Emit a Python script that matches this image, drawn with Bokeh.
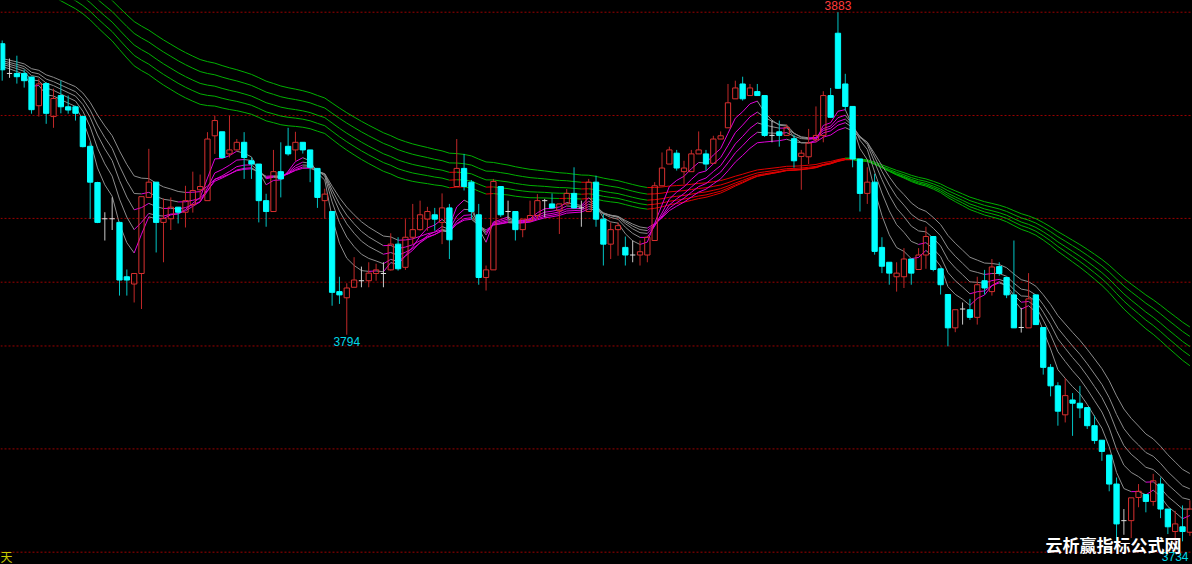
from bokeh.plotting import figure
from bokeh.models import ColumnDataSource, Range1d, Span, Label
from bokeh.embed import file_html
from bokeh.resources import INLINE

# ---------------- data ----------------
opens = [3874.3, 3866.1, 3866.1, 3866.1, 3865.1, 3857.2, 3863.3, 3854.2, 3860.0, 3856.9,
         3856.9, 3854.2, 3846.0, 3836.0, 3826.0, 3826.0, 3825.0, 3810.0, 3808.0, 3810.9,
         3831.9, 3836.1, 3825.0, 3826.0, 3829.2, 3827.8, 3829.9, 3834.0, 3831.0, 3848.9,
         3850.0, 3843.9, 3845.0, 3847.1, 3842.0, 3841.1, 3831.0, 3828.0, 3839.0, 3846.0,
         3845.0, 3847.1, 3845.0, 3839.9, 3831.0, 3828.0, 3805.9, 3804.2, 3807.1, 3808.9,
         3808.9, 3810.9, 3810.9, 3811.9, 3819.0, 3812.6, 3820.9, 3823.0, 3825.9, 3827.1,
         3825.0, 3829.0, 3834.9, 3839.9, 3836.1, 3827.1, 3809.8, 3811.9, 3834.9, 3828.0,
         3828.0, 3823.0, 3825.5, 3826.9, 3831.0, 3830.1, 3828.2, 3830.1, 3833.0, 3829.0,
         3828.0, 3836.1, 3825.9, 3819.0, 3823.0, 3818.1, 3816.0, 3816.0, 3816.0, 3820.0,
         3835.1, 3841.1, 3844.1, 3839.0, 3839.0, 3843.9, 3843.9, 3841.3, 3848.0, 3851.1,
         3859.1, 3863.2, 3860.0, 3861.1, 3860.0, 3849.0, 3850.0, 3849.0, 3848.1, 3843.2,
         3843.1, 3847.8, 3849.0, 3860.0, 3877.2, 3863.2, 3857.0, 3842.5, 3833.0, 3836.1,
         3818.1, 3814.0, 3810.0, 3810.0, 3814.9, 3812.0, 3816.0, 3821.1, 3812.2, 3805.1,
         3795.9, 3801.1, 3800.9, 3798.8, 3808.9, 3805.9, 3812.8, 3809.8, 3805.0, 3796.0,
         3795.9, 3805.0, 3796.0, 3785.0, 3779.9, 3771.9, 3776.0, 3775.1, 3773.9, 3768.9,
         3764.9, 3760.8, 3752.8, 3742.7, 3742.7, 3749.1, 3749.9, 3748.0, 3752.8, 3745.9,
         3739.7, 3741.0, 3739.5]

highs = [3875.2, 3870.2, 3871.0, 3867.2, 3865.2, 3864.7, 3863.7, 3861.9, 3864.1, 3860.0,
         3857.2, 3854.5, 3847.1, 3836.2, 3827.8, 3831.9, 3825.2, 3812.0, 3810.9, 3832.1,
         3845.3, 3836.1, 3831.6, 3831.9, 3829.2, 3835.1, 3839.0, 3838.2, 3849.9, 3854.5,
         3850.0, 3854.5, 3848.0, 3849.9, 3842.9, 3841.1, 3832.9, 3845.0, 3847.1, 3851.1,
         3850.0, 3847.1, 3845.0, 3839.9, 3834.3, 3828.0, 3810.0, 3808.2, 3815.4, 3812.8,
         3814.0, 3813.6, 3814.0, 3822.0, 3820.9, 3825.9, 3830.1, 3831.0, 3829.3, 3829.0,
         3833.0, 3830.1, 3848.0, 3843.9, 3836.7, 3830.1, 3813.1, 3837.0, 3834.9, 3831.0,
         3828.0, 3825.9, 3831.0, 3832.8, 3831.5, 3833.0, 3830.1, 3834.2, 3840.2, 3831.0,
         3837.0, 3837.9, 3827.3, 3825.0, 3825.0, 3821.1, 3820.0, 3820.0, 3821.3, 3836.1,
         3844.3, 3845.9, 3845.0, 3842.0, 3845.0, 3850.1, 3845.0, 3848.9, 3850.1, 3863.2,
         3864.1, 3865.2, 3863.2, 3863.2, 3860.0, 3853.1, 3853.1, 3852.0, 3849.2, 3845.0,
         3850.8, 3857.0, 3861.2, 3862.1, 3883.0, 3866.0, 3857.0, 3842.5, 3840.2, 3838.4,
         3820.9, 3814.0, 3814.0, 3817.9, 3814.9, 3817.9, 3823.8, 3821.1, 3812.2, 3805.1,
         3800.9, 3802.9, 3803.9, 3810.0, 3811.9, 3814.9, 3814.0, 3809.8, 3820.0, 3801.4,
         3811.0, 3805.0, 3796.0, 3785.9, 3780.9, 3782.0, 3777.9, 3779.9, 3773.9, 3771.7,
         3764.9, 3760.8, 3754.6, 3745.9, 3749.0, 3752.8, 3749.9, 3755.6, 3754.6, 3745.9,
         3745.4, 3746.9, 3748.3]

lows = [3864.1, 3864.9, 3863.3, 3862.2, 3855.0, 3854.2, 3852.2, 3851.1, 3855.1, 3855.0,
        3853.1, 3845.7, 3826.0, 3824.8, 3820.0, 3822.9, 3804.8, 3804.8, 3802.9, 3801.1,
        3831.9, 3816.7, 3814.0, 3822.9, 3824.7, 3823.6, 3827.7, 3831.0, 3831.0, 3843.9,
        3842.6, 3842.9, 3844.8, 3837.0, 3837.0, 3825.0, 3823.8, 3828.0, 3831.9, 3843.4,
        3842.0, 3844.0, 3836.1, 3829.0, 3826.0, 3802.0, 3802.5, 3794.0, 3807.1, 3807.1,
        3807.1, 3808.9, 3807.1, 3811.7, 3811.7, 3811.9, 3819.0, 3822.7, 3822.7, 3822.7,
        3819.0, 3814.9, 3834.9, 3833.8, 3825.9, 3807.8, 3806.2, 3811.9, 3826.5, 3825.9,
        3820.0, 3820.9, 3825.2, 3825.9, 3826.4, 3828.8, 3821.8, 3829.9, 3828.8, 3823.8,
        3828.0, 3823.8, 3813.1, 3814.9, 3815.8, 3813.1, 3814.0, 3813.1, 3814.0, 3820.0,
        3835.1, 3841.1, 3839.3, 3835.6, 3839.0, 3843.9, 3839.3, 3841.3, 3848.0, 3851.1,
        3859.1, 3858.6, 3860.0, 3860.0, 3848.6, 3847.1, 3845.9, 3849.0, 3840.1, 3834.0,
        3841.1, 3847.1, 3847.1, 3853.9, 3861.9, 3855.9, 3840.2, 3828.0, 3830.1, 3816.1,
        3811.0, 3807.8, 3805.9, 3806.9, 3807.8, 3812.0, 3812.2, 3811.5, 3805.1, 3790.8,
        3794.7, 3796.8, 3798.1, 3796.8, 3805.1, 3804.8, 3810.3, 3804.1, 3795.9, 3794.6,
        3795.9, 3796.8, 3783.0, 3777.0, 3768.9, 3769.8, 3766.1, 3771.0, 3768.0, 3763.9,
        3759.2, 3750.8, 3736.7, 3738.8, 3737.9, 3746.4, 3745.0, 3746.8, 3743.4, 3739.0,
        3734.0, 3737.0, 3738.5]

closes = [3867.1, 3866.1, 3865.2, 3864.1, 3856.1, 3863.2, 3855.1, 3859.2, 3856.9, 3856.0,
          3855.1, 3845.9, 3836.1, 3825.0, 3826.0, 3826.0, 3809.1, 3809.1, 3810.9, 3832.1,
          3836.1, 3825.0, 3826.1, 3829.2, 3827.8, 3831.0, 3833.8, 3834.9, 3848.0, 3853.1,
          3842.9, 3845.0, 3847.1, 3842.9, 3841.1, 3831.0, 3828.0, 3839.0, 3837.0, 3843.9,
          3847.1, 3845.0, 3840.2, 3831.9, 3832.8, 3805.7, 3805.0, 3806.9, 3809.1, 3808.9,
          3811.0, 3811.9, 3810.9, 3819.0, 3812.2, 3820.9, 3823.0, 3827.1, 3828.0, 3825.9,
          3829.0, 3820.2, 3839.9, 3834.9, 3828.0, 3809.8, 3811.9, 3836.3, 3827.1, 3828.0,
          3823.0, 3825.9, 3826.9, 3831.0, 3831.0, 3829.0, 3830.1, 3833.0, 3829.0, 3829.0,
          3836.1, 3825.9, 3819.0, 3823.0, 3824.1, 3816.0, 3816.0, 3816.9, 3820.9, 3835.1,
          3840.0, 3845.0, 3840.0, 3840.0, 3843.9, 3845.0, 3841.1, 3848.0, 3848.9, 3858.0,
          3862.1, 3859.1, 3862.1, 3860.0, 3849.0, 3849.0, 3849.0, 3851.2, 3842.0, 3844.1,
          3846.9, 3849.0, 3860.0, 3854.0, 3862.0, 3857.0, 3842.5, 3833.0, 3836.1, 3817.0,
          3812.9, 3811.0, 3811.0, 3814.9, 3811.0, 3816.0, 3821.1, 3812.0, 3807.8, 3795.9,
          3800.9, 3801.1, 3798.8, 3807.8, 3806.9, 3812.7, 3810.9, 3805.0, 3795.9, 3796.0,
          3803.9, 3796.8, 3785.0, 3779.9, 3772.9, 3777.2, 3775.1, 3773.8, 3768.9, 3764.8,
          3761.8, 3752.8, 3741.8, 3742.7, 3749.0, 3750.8, 3748.0, 3753.7, 3745.9, 3741.0,
          3741.8, 3739.7, 3745.9]

# moving-average ribbons (EMA periods) and their values at the first visible bar
short_periods = [5, 8, 11, 14, 18]
short_start = [3868.0, 3868.6, 3869.1, 3869.6, 3870.2]
long_periods = [54, 59, 64, 70, 76]
long_start = [3895.0, 3897.0, 3899.2, 3901.6, 3904.3]

# golden-section price levels between the marked high and low
grid_levels = [3883.0, 3854.5, 3826.1, 3808.5, 3790.9, 3762.5, 3734.0]

# marked extremes: (text, bar index, price)
high_marks = [("3883", 114, 3883.0)]
low_marks = [("3794", 47, 3794.0), ("3734", 160, 3734.0)]
corner_text = "天"
watermark = "云析赢指标公式网"

# ---------------- layout ----------------
W, H = 1192, 564
X0, X1 = -0.232, 162.36
Y0, Y1 = 3730.6, 3886.23
PPX = (Y1 - Y0) / H  # price units per pixel

p = figure(width=W, height=H, x_range=Range1d(X0, X1), y_range=Range1d(Y0, Y1),
           output_backend="svg", toolbar_location=None, min_border=0,
           x_axis_location=None, y_axis_location=None,
           background_fill_color="#000000", border_fill_color="#000000",
           outline_line_color=None)
p.xgrid.visible = False
p.ygrid.visible = False

for lv in grid_levels:
    p.add_layout(Span(location=lv, dimension="width", line_color="#9a0000",
                      line_dash="2 2", line_width=1, level="underlay"))


def ema(vals, period, start):
    a = 2.0 / (period + 1)
    out = [start]
    for v in vals[1:]:
        out.append(out[-1] + a * (v - out[-1]))
    return out


def ribbon_segments(periods, starts, up_col, dn_col):
    d = dict(x0=[], x1=[], y0=[], y1=[], c=[])
    for per, st in zip(periods, starts):
        e = ema(closes, per, st)
        for i in range(1, len(e)):
            d["x0"].append(i - 1)
            d["x1"].append(i)
            d["y0"].append(e[i - 1])
            d["y1"].append(e[i])
            d["c"].append(up_col if e[i] >= e[i - 1] else dn_col)
    return ColumnDataSource(d)


long_src = ribbon_segments(long_periods, long_start, "#e00000", "#00b000")
short_src = ribbon_segments(short_periods, short_start, "#e000d8", "#8c8c8c")
p.segment(x0="x0", y0="y0", x1="x1", y1="y1", line_color="c", line_width=1, source=long_src)
p.segment(x0="x0", y0="y0", x1="x1", y1="y1", line_color="c", line_width=1, source=short_src)

# ---------------- candles ----------------
BW = 0.36
up = dict(x=[], o=[], c=[])
up_w = dict(x=[], y0=[], y1=[])
dn = dict(x=[], o=[], c=[], h=[], l=[])
dj = dict(x=[], c=[], h=[], l=[])
for i, (o, h, l, c) in enumerate(zip(opens, highs, lows, closes)):
    if abs(c - o) < 0.05:
        dj["x"].append(i); dj["c"].append(c); dj["h"].append(h); dj["l"].append(l)
    elif c > o:
        up["x"].append(i); up["o"].append(o); up["c"].append(c)
        if h > c:
            up_w["x"].append(i); up_w["y0"].append(c); up_w["y1"].append(h)
        if l < o:
            up_w["x"].append(i); up_w["y0"].append(l); up_w["y1"].append(o)
    else:
        dn["x"].append(i); dn["o"].append(o); dn["c"].append(c)
        dn["h"].append(h); dn["l"].append(l)

dn_src = ColumnDataSource(dn)
p.segment(x0="x", x1="x", y0="l", y1="h", line_color="#00c4c4", line_width=1, source=dn_src)
p.quad(left=[x - BW for x in dn["x"]], right=[x + BW for x in dn["x"]],
       top=dn["o"], bottom=dn["c"], fill_color="#00ffff", line_color="#00ffff", line_width=1)

p.segment(x0="x", x1="x", y0="y0", y1="y1", line_color="#c02828", line_width=1,
          source=ColumnDataSource(up_w))
p.quad(left=[x - BW for x in up["x"]], right=[x + BW for x in up["x"]],
       top=up["c"], bottom=up["o"], fill_color=None, line_color="#d83030", line_width=1)

dj_src = ColumnDataSource(dj)
p.segment(x0="x", x1="x", y0="l", y1="h", line_color="#c8c8c8", line_width=1, source=dj_src)
p.segment(x0=[x - BW for x in dj["x"]], x1=[x + BW for x in dj["x"]], y0=dj["c"], y1=dj["c"],
          line_color="#e0e0e0", line_width=1)

# ---------------- texts ----------------
for txt, bi, pr in high_marks:
    p.add_layout(Label(x=bi, y=pr + 7.0 * PPX, text=txt, text_align="center",
                       text_baseline="alphabetic", text_color="#ff3c3c",
                       text_font="Liberation Sans", text_font_size="12px"))
for txt, bi, pr in low_marks:
    off = 4.6 if pr < 3740 else 6.8
    p.add_layout(Label(x=bi, y=pr - off * PPX, text=txt, text_align="center",
                       text_baseline="alphabetic", text_color="#00d8e8",
                       text_font="Liberation Sans", text_font_size="12px"))

p.add_layout(Label(x=0, y=8, x_units="screen", y_units="screen", text=corner_text,
                   text_align="left", text_baseline="alphabetic", text_color="#c8c800",
                   text_font="Noto Sans CJK SC", text_font_size="12px"))
p.add_layout(Label(x=1045, y=20, x_units="screen", y_units="screen", text=watermark,
                   text_align="left", text_baseline="alphabetic", text_color="#ffffff",
                   text_font="Noto Sans CJK SC", text_font_size="17px",
                   text_font_style="bold"))

tmpl = """{% block preamble %}<style>html, body { margin: 0 !important; padding: 0 !important; background: #000000; overflow: hidden; }</style>{% endblock %}"""
open("out.html", "w").write(file_html(p, INLINE, title="chart", template=tmpl))
